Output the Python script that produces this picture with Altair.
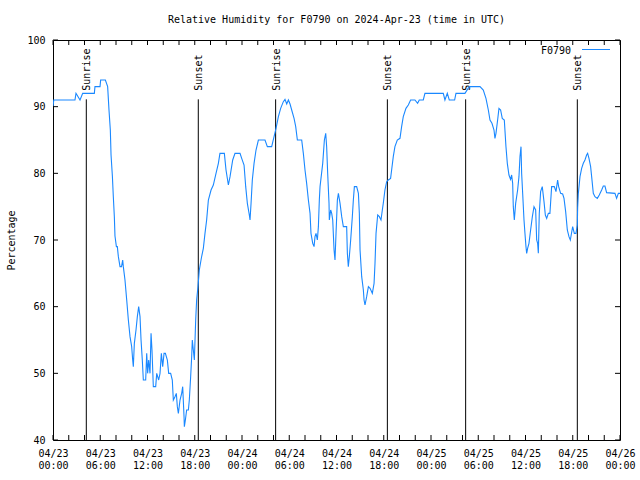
import altair as alt
import pandas as pd

TITLE = "Relative Humidity for F0790 on 2024-Apr-23 (time in UTC)"
SERIES = "F0790"
FONT = "DejaVu Sans Mono"

# hours since 2024-04-23 00:00 UTC
hours = [0.0, 0.1, 2.79, 2.92, 3.43, 3.77, 5.25, 5.33, 5.97, 6.05, 6.65, 6.94, 7.11, 7.28, 7.37,
         7.54, 7.66, 7.79, 7.87, 8.05, 8.17, 8.3, 8.51, 8.7, 8.85, 8.93, 9.14, 9.36, 9.57, 9.78,
         9.99, 10.12, 10.2, 10.33, 10.54, 10.71, 10.88, 11.05, 11.18, 11.34, 11.47, 11.77, 11.9,
         12.02, 12.15, 12.32, 12.45, 12.57, 12.74, 13.04, 13.17, 13.42, 13.59, 13.76, 13.93, 14.1,
         14.27, 14.52, 14.69, 14.94, 15.15, 15.28, 15.49, 15.66, 15.79, 15.92, 16.13, 16.34, 16.47,
         16.64, 16.68, 16.81, 16.97, 17.19, 17.31, 17.48, 17.61, 17.69, 17.82, 17.95, 18.12, 18.24,
         18.41, 18.58, 18.84, 19.09, 19.3, 19.51, 19.73, 20.07, 20.36, 20.7, 21.0, 21.2, 21.76,
         21.97, 22.27, 22.48, 22.82, 23.11, 23.75, 23.96, 24.26, 24.47, 24.68, 24.93, 25.02, 25.15,
         25.31, 25.53, 25.78, 26.08, 26.92, 27.22, 27.77, 28.07, 28.32, 28.62, 28.91, 29.25, 29.46,
         29.68, 29.89, 30.1, 30.31, 30.61, 30.82, 31.03, 31.58, 31.79, 32.0, 32.21, 32.43, 32.64,
         32.76, 32.98, 33.15, 33.27, 33.4, 33.57, 33.7, 33.82, 33.91, 34.25, 34.46, 34.63, 34.75,
         34.88, 35.05, 35.09, 35.26, 35.39, 35.52, 35.69, 35.81, 35.94, 36.11, 36.24, 36.45, 36.66,
         36.87, 37.29, 37.38, 37.5, 37.63, 37.8, 38.01, 38.14, 38.27, 38.56, 38.78, 38.9, 38.99,
         39.2, 39.41, 39.5, 39.62, 39.83, 40.05, 40.26, 40.55, 40.77, 40.89, 41.02, 41.23, 41.44,
         41.65, 41.82, 41.94, 42.15, 42.37, 42.58, 42.87, 43.0, 43.21, 43.42, 43.72, 44.06, 44.27,
         44.48, 44.82, 45.12, 45.41, 45.96, 46.3, 46.51, 47.02, 47.23, 49.56, 49.77, 50.07, 50.32,
         51.0, 51.17, 52.31, 52.86, 54.22, 54.64, 54.98, 55.28, 55.49, 55.74, 56.0, 56.12, 56.25,
         56.46, 56.63, 56.84, 57.05, 57.31, 57.52, 57.69, 57.9, 58.1, 58.24, 58.37, 58.45, 58.58,
         58.75, 59.0, 59.17, 59.3, 59.43, 59.51, 59.64, 59.81, 59.93, 60.06, 60.15, 60.27, 60.44,
         60.65, 60.87, 61.08, 61.29, 61.42, 61.54, 61.63, 61.75, 61.92, 62.13, 62.35, 62.52, 62.69,
         62.9, 63.1, 63.32, 63.66, 63.87, 64.08, 64.21, 64.46, 64.72, 64.89, 65.1, 65.31, 65.52,
         65.69, 65.99, 66.2, 66.41, 66.58, 66.62, 66.71, 66.92, 67.13, 67.34, 67.55, 67.76, 67.89,
         68.06, 68.27, 68.4, 68.61, 68.82, 69.12, 69.37, 69.67, 69.88, 70.09, 70.3, 71.36, 71.57,
         71.79, 72.0]

humidity = [90, 91, 91, 92, 91, 92, 92, 93, 93, 94, 94, 93, 89.5, 86.5, 82.75,
            79.6, 76.5, 73.5, 70.6, 69, 69, 67.5, 66, 66, 67, 66, 64, 61, 58, 55.5,
            54, 52, 51, 54.5, 56.5, 58.5, 60, 58.5, 55, 52, 49, 49, 53,
            50, 52, 50, 56, 53.5, 48, 48, 50, 49, 50, 53, 51, 53,
            53, 52, 50, 50, 49, 46, 46.5, 47, 45, 44, 46, 47, 48,
            43.5, 42, 43, 44.5, 44.5, 46, 49.5, 52.5, 55, 53.5, 52, 58, 61,
            63, 65.5, 67.3, 68.75, 71, 73, 76, 77.5, 78.25, 80, 81.5, 83, 83,
            80.5, 78.25, 79.5, 82, 83, 83, 82.25, 81.25, 78, 75.5, 73.75, 73, 75.5,
            79, 81.5, 83.5, 85, 85, 84, 84, 85.5, 86.75, 88.5, 89.75, 90.75, 91.1,
            90.4, 91, 90.4, 89.5, 88.25, 87, 85, 85, 83, 80.5, 78.5, 76, 74,
            71, 69.5, 69, 70.5, 71, 70, 72, 76, 78, 81.5, 85, 86, 84,
            80, 75.5, 73, 74.5, 74, 73, 68.5, 67, 71, 76, 77, 75.5, 73.5,
            72, 72, 68, 66, 67.5, 70, 73.5, 76, 78, 78, 77, 74, 68.5,
            64.5, 62.5, 61, 60.25, 61.5, 63, 62.75, 62, 63.5, 66.5, 71, 73.75, 73.5,
            73, 74.5, 75.5, 77.5, 78.75, 79, 79.25, 80.5, 82.5, 84, 85, 85.25, 87,
            88.5, 89.75, 90.25, 91, 91, 90.5, 91, 91, 92, 92, 91, 92, 91,
            91, 92, 92, 93, 93, 92.5, 91.25, 89.5, 88, 87.5, 86.5, 85.25, 86,
            88, 89.75, 89.5, 88.25, 88, 84, 81.5, 79.75, 79.1, 79.75, 78.5, 75, 73,
            75.5, 77.5, 79.5, 82.5, 84, 80, 77, 73, 71, 69, 68, 68.75, 69.5,
            71.5, 73.5, 75, 74.5, 70, 69.5, 68, 74, 77.25, 78, 75.75, 73.75, 73.25,
            74, 74, 78, 78, 77.25, 79, 78, 77, 76.9, 76.25, 74.25, 71.5, 70.5,
            70, 72, 71, 71, 72.25, 74.75, 77, 79.5, 80.75, 81.5, 82, 82.75, 83,
            82.25, 81, 79.5, 77, 76.5, 76.25, 76.75, 77.5, 78.1, 78.1, 77.1, 77, 76.25,
            77, 77]

event_hours = [4.23, 18.45, 28.27, 42.46, 52.4, 66.58]
event_labels = ["Sunrise", "Sunset", "Sunrise", "Sunset", "Sunrise", "Sunset"]

x_label_hours = list(range(0, 73, 6))
x_tick_hours = list(range(0, 73, 2))
y_ticks = [40, 50, 60, 70, 80, 90, 100]

W, H = 567, 400
LINE_COLOR = "#1a88ff"

df = pd.DataFrame({"hour": hours, "rh": humidity})
ev = pd.DataFrame({"hour": event_hours, "label": event_labels})
xt = pd.DataFrame({"hour": x_tick_hours})
yt = pd.DataFrame({"v": y_ticks})

xscale = alt.Scale(domain=[0, 72], nice=False, zero=False)
yscale = alt.Scale(domain=[40, 100], nice=False, zero=False)

xaxis = alt.Axis(
    values=x_label_hours,
    labelExpr="['04/' + (23 + floor(datum.value / 24)), format(datum.value % 24, '02d') + ':00']",
    ticks=False, domain=False, grid=False, labelFlush=False, labelOverlap=False,
    labelPadding=8, labelLineHeight=12, labelFont=FONT, labelFontSize=10,
    labelColor="black", title=None,
)
yaxis = alt.Axis(
    values=y_ticks, ticks=False, domain=False, grid=False, labelFlush=False,
    labelPadding=8, labelFont=FONT, labelFontSize=10, labelColor="black",
    title="Percentage", titleFont=FONT, titleFontSize=10, titleFontWeight="normal",
    titleColor="black", titleAngle=270, titleAlign="center", titleBaseline="middle",
    titleX=-42, titleY=200,
)

line = alt.Chart(df).mark_line(color=LINE_COLOR, strokeWidth=1.1, clip=True).encode(
    x=alt.X("hour:Q", scale=xscale, axis=xaxis),
    y=alt.Y("rh:Q", scale=yscale, axis=yaxis),
)

ev_rules = alt.Chart(ev).mark_rule(color="black", strokeWidth=1).encode(
    x=alt.X("hour:Q", scale=xscale),
    y=alt.datum(91.1),
    y2=alt.datum(40),
)

ev_text = alt.Chart(ev).mark_text(
    angle=270, align="left", baseline="middle", dy=1, font=FONT, fontSize=10, color="black"
).encode(
    x=alt.X("hour:Q", scale=xscale),
    y=alt.datum(92.4),
    text="label:N",
)

tick_len = 5
bottom_ticks = alt.Chart(xt).mark_rule(color="black").encode(
    x=alt.X("hour:Q", scale=xscale), y=alt.value(H), y2=alt.value(H - tick_len))
top_ticks = alt.Chart(xt).mark_rule(color="black").encode(
    x=alt.X("hour:Q", scale=xscale), y=alt.value(0), y2=alt.value(tick_len))
left_ticks = alt.Chart(yt).mark_rule(color="black").encode(
    y=alt.Y("v:Q", scale=yscale), x=alt.value(0), x2=alt.value(tick_len))
right_ticks = alt.Chart(yt).mark_rule(color="black").encode(
    y=alt.Y("v:Q", scale=yscale), x=alt.value(W), x2=alt.value(W - tick_len))

legend_df = pd.DataFrame({"name": [SERIES]})
legend_text = alt.Chart(legend_df).mark_text(
    align="right", baseline="middle", font=FONT, fontSize=10, color="black"
).encode(x=alt.value(518), y=alt.value(10.5), text="name:N")
legend_line = alt.Chart(legend_df).mark_rule(color=LINE_COLOR, strokeWidth=1).encode(
    x=alt.value(529), x2=alt.value(557), y=alt.value(9.5))

chart = alt.layer(
    ev_rules, ev_text, line, bottom_ticks, top_ticks, left_ticks, right_ticks,
    legend_text, legend_line,
).properties(
    width=W, height=H,
    title=alt.Title(TITLE, font=FONT, fontSize=10, fontWeight="normal", color="black",
                    anchor="middle", offset=10),
    autosize=alt.AutoSizeParams(type="none"),
    padding={"left": 53, "top": 40, "right": 20, "bottom": 40},
    background="white",
).configure_view(
    stroke="black", strokeWidth=1
)

chart.save("out.html", embed_options={"renderer": "svg", "actions": False})
